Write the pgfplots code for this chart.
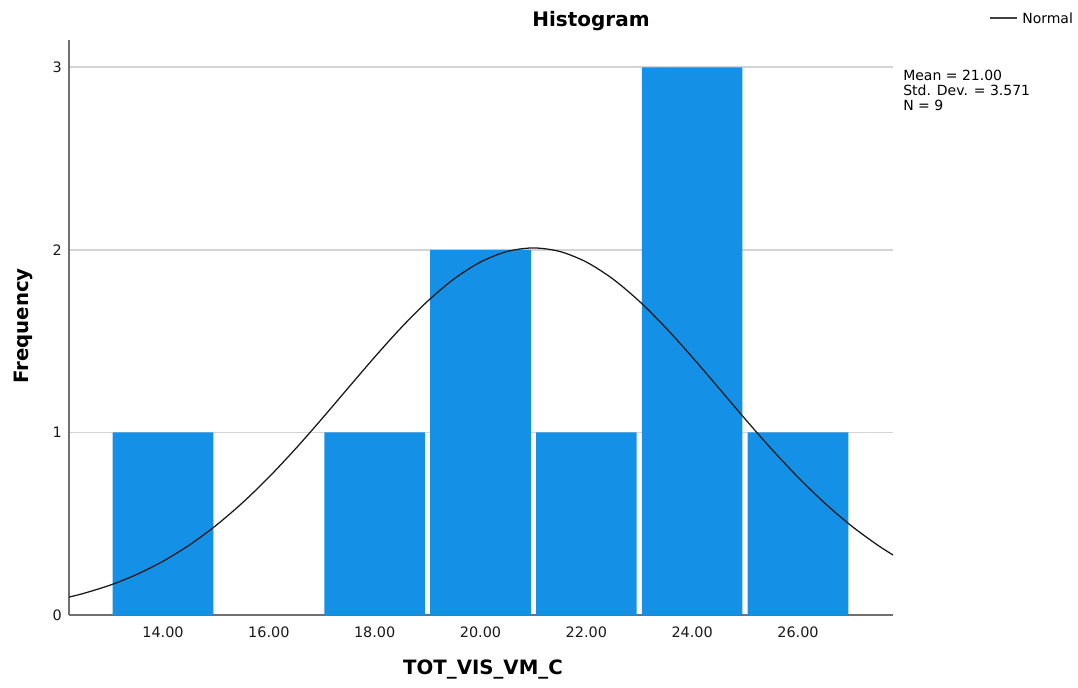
\documentclass[border=0pt]{standalone}
\usepackage{pgfplots}
\pgfplotsset{compat=1.18}
\usepackage{fontspec}
\setmainfont{DejaVu Sans}
\definecolor{barblue}{HTML}{1490E6}
\definecolor{axgray}{HTML}{707070}
\definecolor{gridgray}{HTML}{D4D4D4}
\begin{document}
\begin{tikzpicture}
\useasboundingbox (0,0) rectangle (808.5pt,516pt);
\begin{axis}[
  at={(51.75pt,54.75pt)}, anchor=south west,
  scale only axis, width=618pt, height=431.25pt,
  xmin=12.224, xmax=27.795, ymin=0, ymax=3.15,
  axis x line*=bottom, axis y line*=left,
  axis line style={axgray, line width=1.2pt, -},
  major tick length=0pt,
  xtick={14,16,18,20,22,24,26},
  xticklabels={14.00,16.00,18.00,20.00,22.00,24.00,26.00},
  ytick={0,1,2,3}, yticklabels={0,1,2,3},
  xticklabel style={anchor=north, inner sep=0pt, yshift=-9pt, font=\fontsize{10.8}{12}\selectfont, text=black!90},
  yticklabel style={anchor=east, inner sep=0pt, xshift=-5.25pt, font=\fontsize{10.8}{12}\selectfont, text=black!90},
  ymajorgrids, grid style={gridgray, line width=1.4pt},
  axis on top=false,
]
\addplot[ybar, bar width=1.9, bar shift=0pt, fill=barblue, draw=none]
  coordinates {(14,1) (18,1) (20,2) (22,1) (24,3) (26,1)};
\addplot[black!90, line width=0.95pt, smooth] coordinates {
(12.2,0.0965) (12.5,0.1183) (13,0.1635) (13.5,0.2216) (14,0.2944) (14.5,0.3836)
(15,0.4902) (15.5,0.6142) (16,0.7546) (16.5,0.9090) (17,1.0739) (17.5,1.2440)
(18,1.4130) (18.5,1.5738) (19,1.7190) (19.5,1.8411) (20,1.9336) (20.5,1.9913)
(21,2.0109) (21.5,1.9913) (22,1.9336) (22.5,1.8411) (23,1.7190) (23.5,1.5738)
(24,1.4130) (24.5,1.2440) (25,1.0739) (25.5,0.9090) (26,0.7546) (26.5,0.6142)
(27,0.4902) (27.5,0.3836) (27.8,0.3281)};
\end{axis}
\node[font=\fontsize{15}{18}\selectfont\bfseries] at (443.25pt,500.25pt) {Histogram};
\node[font=\fontsize{14.8}{18}\selectfont\bfseries, rotate=90] at (17.25pt,271.5pt) {Frequency};
\node[font=\fontsize{14.8}{18}\selectfont\bfseries, anchor=base] at (362.25pt,9.75pt) {TOT\_VIS\_VM\_C};
\draw[black!75, line width=0.9pt] (742.5pt,502.5pt) -- (762.75pt,502.5pt);
\node[anchor=west, inner sep=0pt, font=\fontsize{10.5}{12}\selectfont] at (766.5pt,502.5pt) {Normal};
\node[anchor=north west, inner sep=0pt, align=left, font=\fontsize{10.5}{11.25}\selectfont] at (677.25pt,463.5pt) {Mean = 21.00\\Std. Dev. = 3.571\\N = 9};
\end{tikzpicture}
\end{document}
